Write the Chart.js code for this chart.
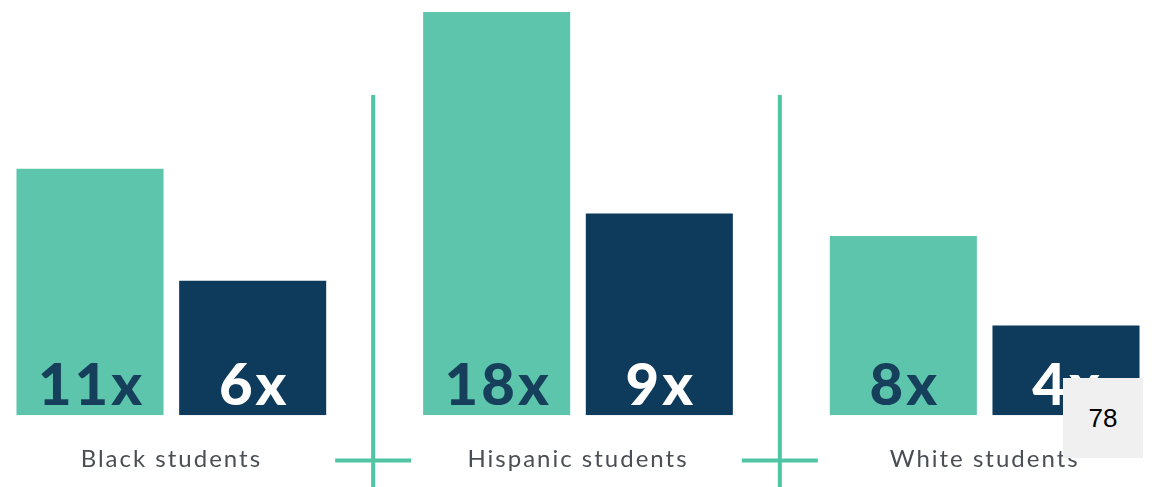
<!DOCTYPE html>
<html>
<head>
<meta charset="utf-8">
<script src="https://cdn.jsdelivr.net/npm/chart.js@4"></script>
<style>
  html, body { margin: 0; padding: 0; background: #fff; overflow: hidden; }
  body { width: 1158px; height: 487px; position: relative; }
  /* the canvas runs a little past the window on the left, right and bottom */
  #wrap { position: absolute; left: -32px; top: 0; width: 1220px; height: 504px; }
  #pageNo {
    position: absolute; left: 1063px; top: 378px; width: 80px; height: 80px;
    background: #f0f0f0; color: #000; font: 26px "Liberation Sans", Arial, sans-serif;
    display: flex; align-items: center; justify-content: center;
  }
</style>
</head>
<body>
<div id="wrap"><canvas id="chart"></canvas></div>
<div id="pageNo">78</div>
<script>
// --- data ---
const groups = ['Black students', 'Hispanic students', 'White students'];
const firstSeries = [11, 18, 8];
const secondSeries = [6, 9, 4];

const TEAL = '#5ec5ad';
const NAVY = '#0e3a5b';
const LINE = '#4fc5a3';

// wider tracking for the group names
const tracking = {
  id: 'tracking',
  beforeDraw(chart) { chart.ctx.letterSpacing = '2px'; },
  beforeDatasetsDraw(chart) { chart.ctx.letterSpacing = '0px'; }
};

// value labels sitting at the foot of each bar
const valueLabels = {
  id: 'valueLabels',
  afterDatasetsDraw(chart) {
    const ctx = chart.ctx;
    ctx.save();
    ctx.font = '900 58px Lato';
    ctx.letterSpacing = '3px';
    ctx.textAlign = 'center';
    ctx.textBaseline = 'alphabetic';
    chart.data.datasets.forEach((ds, i) => {
      chart.getDatasetMeta(i).data.forEach((bar, j) => {
        ctx.fillStyle = i === 0 ? '#153f5a' : '#ffffff';
        ctx.fillText(ds.data[j] + 'x', bar.x + 1.5, bar.base - 10);
      });
    });
    ctx.restore();
  }
};

// teal dividers between groups
const dividers = {
  id: 'dividers',
  afterDraw(chart) {
    const ctx = chart.ctx;
    const xs = chart.scales.x;
    ctx.save();
    ctx.strokeStyle = LINE;
    ctx.lineWidth = 4;
    for (let i = 0; i < groups.length - 1; i++) {
      const x = (xs.getPixelForTick(i) + xs.getPixelForTick(i + 1)) / 2 - 1.5;
      ctx.beginPath();
      ctx.moveTo(x, 95);
      ctx.lineTo(x, chart.height);
      ctx.moveTo(x - 38, 460.5);
      ctx.lineTo(x + 38, 460.5);
      ctx.stroke();
    }
    ctx.restore();
  }
};

new Chart(document.getElementById('chart'), {
  type: 'bar',
  data: {
    labels: groups,
    datasets: [
      { data: firstSeries, backgroundColor: TEAL, categoryPercentage: 0.8, barPercentage: 0.904 },
      { data: secondSeries, backgroundColor: NAVY, categoryPercentage: 0.8, barPercentage: 0.904 }
    ]
  },
  options: {
    responsive: true,
    maintainAspectRatio: false,
    animation: false,
    layout: { padding: { top: 12, bottom: 0, left: 0, right: 0 } },
    plugins: { legend: { display: false }, tooltip: { enabled: false } },
    scales: {
      x: {
        grid: { display: false, drawTicks: false },
        border: { display: false },
        ticks: {
          color: '#4a4f55',
          padding: 30,
          maxRotation: 0,
          font: { family: 'Lato', size: 24 }
        }
      },
      y: { display: false, min: 0, max: 18 }
    }
  },
  plugins: [tracking, valueLabels, dividers]
});
</script>
</body>
</html>
